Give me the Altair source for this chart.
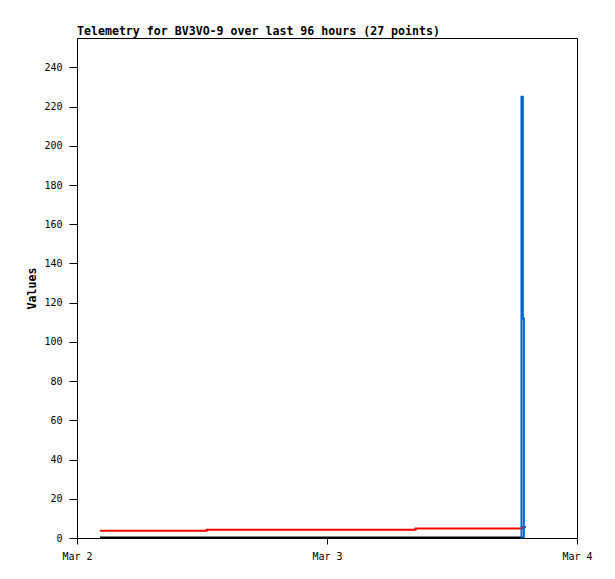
import altair as alt
import pandas as pd

# hours after Mar 2 00:00
black_h = [2.2, 7.0, 12.45, 18.0, 24.0, 30.0, 32.5, 38.0, 42.9]
black_v = [0.2, 0.2, 0.2, 0.2, 0.2, 0.2, 0.2, 0.2, 0.2]
red_h = [2.2, 7.0, 12.45, 18.0, 24.0, 32.5, 38.0, 42.8, 43.1]
red_v = [3.7, 3.7, 4.2, 4.2, 4.2, 4.85, 4.85, 5.6, 5.6]
blue_h = [42.6, 42.67, 42.8, 42.9]
blue_v = [0.2, 225.0, 112.0, 0.2]
x_ticks = ["2024-03-02T00:00:00", "2024-03-03T00:00:00", "2024-03-04T00:00:00"]
y_ticks = list(range(0, 241, 20))

base = pd.Timestamp("2024-03-02T00:00:00")

def frame(h, v):
    return pd.DataFrame({"t": [base + pd.Timedelta(hours=x) for x in h], "v": v})

title = "Telemetry for BV3VO-9 over last 96 hours (27 points)"
FONT = "DejaVu Sans Mono"

x_enc = alt.X("t:T", scale=alt.Scale(domain=[x_ticks[0], x_ticks[-1]], type="utc"),
              axis=alt.Axis(values=x_ticks, labelExpr="utcFormat(datum.value, '%b %-d')",
                            labelFlush=False, tickSize=6, labelPadding=7), title=None)
y_enc = alt.Y("v:Q", scale=alt.Scale(domain=[0, 255], nice=False),
              axis=alt.Axis(values=y_ticks, title="Values", tickSize=8, labelPadding=7, titlePadding=6))

def line(h, v, color):
    return alt.Chart(frame(h, v)).mark_line(interpolate="step-after", color=color, strokeWidth=2).encode(x=x_enc, y=y_enc)

chart = alt.layer(
    line(black_h, black_v, "#000000"),
    line(red_h, red_v, "#FF0000"),
    line(blue_h, blue_v, "#0066CC"),
).properties(
    width=500, height=500,
    title=alt.TitleParams(title, anchor="start", frame="group", font=FONT, fontSize=11.6, fontWeight="bold", offset=0, color="black"),
    padding={"left": 69, "top": 30, "right": 30, "bottom": 30},
    autosize=alt.AutoSizeParams(type="none"),
).configure_view(stroke="black", strokeWidth=1).configure_axis(
    grid=False, labelFont=FONT, titleFont=FONT, labelFontSize=10, titleFontSize=11.6,
    titleFontWeight="bold", domainColor="black", tickColor="black",
    labelColor="black", titleColor="black",
)

chart.save("out.html", embed_options={"renderer": "svg", "actions": False})
